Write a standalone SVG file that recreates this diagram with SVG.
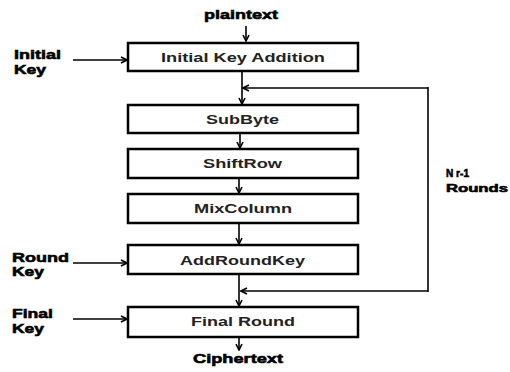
<svg xmlns="http://www.w3.org/2000/svg" width="510" height="372" viewBox="0 0 510 372">
<style>
.box{fill:#fff;stroke:#000;stroke-width:2.5}
.bt{font-family:"Liberation Sans",Arial,sans-serif;font-weight:bold;font-size:13.5px;fill:#222;text-anchor:middle}
.lb{font-family:"Liberation Sans",Arial,sans-serif;font-weight:bold;font-size:13.5px;fill:#000;stroke:#000;stroke-width:0.6}
.ln{fill:none;stroke:#000;stroke-width:1.6}
</style>
<defs>
<marker id="ah" viewBox="0 0 8 8" refX="7" refY="4" markerWidth="8" markerHeight="8" markerUnits="userSpaceOnUse" orient="auto">
<path d="M1,1 L7,4 L1,7" fill="none" stroke="#000" stroke-width="1.6"/>
</marker>
</defs>
<rect width="510" height="372" fill="#fff"/>
<g id="connectors">
<line class="ln" x1="246" y1="26" x2="246" y2="41" marker-end="url(#ah)"/>
<line class="ln" x1="73" y1="60" x2="127" y2="60" marker-end="url(#ah)"/>
<line class="ln" x1="242" y1="71" x2="242" y2="104" marker-end="url(#ah)"/>
<line class="ln" x1="428" y1="88" x2="243" y2="88" marker-end="url(#ah)"/>
<line class="ln" x1="428" y1="87" x2="428" y2="292"/>
<line class="ln" x1="240" y1="133" x2="240" y2="148" marker-end="url(#ah)"/>
<line class="ln" x1="239" y1="178" x2="239" y2="193" marker-end="url(#ah)"/>
<line class="ln" x1="239" y1="223" x2="239" y2="244" marker-end="url(#ah)"/>
<line class="ln" x1="73" y1="263" x2="127" y2="263" marker-end="url(#ah)"/>
<line class="ln" x1="239" y1="274" x2="239" y2="306" marker-end="url(#ah)"/>
<line class="ln" x1="428" y1="291" x2="241" y2="291" marker-end="url(#ah)"/>
<line class="ln" x1="73" y1="319" x2="127" y2="319" marker-end="url(#ah)"/>
<line class="ln" x1="239" y1="337" x2="239" y2="350" marker-end="url(#ah)"/>
</g>
<g id="plaintext"><text class="lb" x="241" y="19" text-anchor="middle" textLength="74" lengthAdjust="spacingAndGlyphs">plaintext</text></g>
<g id="initial-key"><text class="lb" x="14" y="59" textLength="47" lengthAdjust="spacingAndGlyphs">Initial</text><text class="lb" x="14" y="74" textLength="32" lengthAdjust="spacingAndGlyphs">Key</text></g>
<g id="initial-key-addition"><rect class="box" x="128" y="43" width="230" height="28"/><text class="bt" x="243" y="62" textLength="164" lengthAdjust="spacingAndGlyphs">Initial Key Addition</text></g>
<g id="subbyte"><rect class="box" x="128" y="105" width="230" height="28"/><text class="bt" x="242.5" y="124" textLength="73" lengthAdjust="spacingAndGlyphs">SubByte</text></g>
<g id="shiftrow"><rect class="box" x="128" y="149" width="230" height="29"/><text class="bt" x="242.5" y="168" textLength="79" lengthAdjust="spacingAndGlyphs">ShiftRow</text></g>
<g id="mixcolumn"><rect class="box" x="128" y="194" width="230" height="29"/><text class="bt" x="243" y="213" textLength="98" lengthAdjust="spacingAndGlyphs">MixColumn</text></g>
<g id="nr-rounds"><text class="lb" x="446" y="177" textLength="23" lengthAdjust="spacingAndGlyphs" style="font-size:11px">N r-1</text><text class="lb" x="446" y="192" textLength="62" lengthAdjust="spacingAndGlyphs" style="font-size:11.5px">Rounds</text></g>
<g id="round-key"><text class="lb" x="12" y="262" textLength="57" lengthAdjust="spacingAndGlyphs">Round</text><text class="lb" x="12" y="276" textLength="32" lengthAdjust="spacingAndGlyphs">Key</text></g>
<g id="addroundkey"><rect class="box" x="128" y="245" width="230" height="29"/><text class="bt" x="242.5" y="265" textLength="125" lengthAdjust="spacingAndGlyphs">AddRoundKey</text></g>
<g id="final-key"><text class="lb" x="12" y="318" textLength="41" lengthAdjust="spacingAndGlyphs">Final</text><text class="lb" x="12" y="333" textLength="32" lengthAdjust="spacingAndGlyphs">Key</text></g>
<g id="final-round"><rect class="box" x="128" y="307" width="230" height="30"/><text class="bt" x="243" y="326" textLength="104" lengthAdjust="spacingAndGlyphs">Final Round</text></g>
<g id="ciphertext"><text class="lb" x="238" y="363" text-anchor="middle" textLength="90" lengthAdjust="spacingAndGlyphs">Ciphertext</text></g>
</svg>
